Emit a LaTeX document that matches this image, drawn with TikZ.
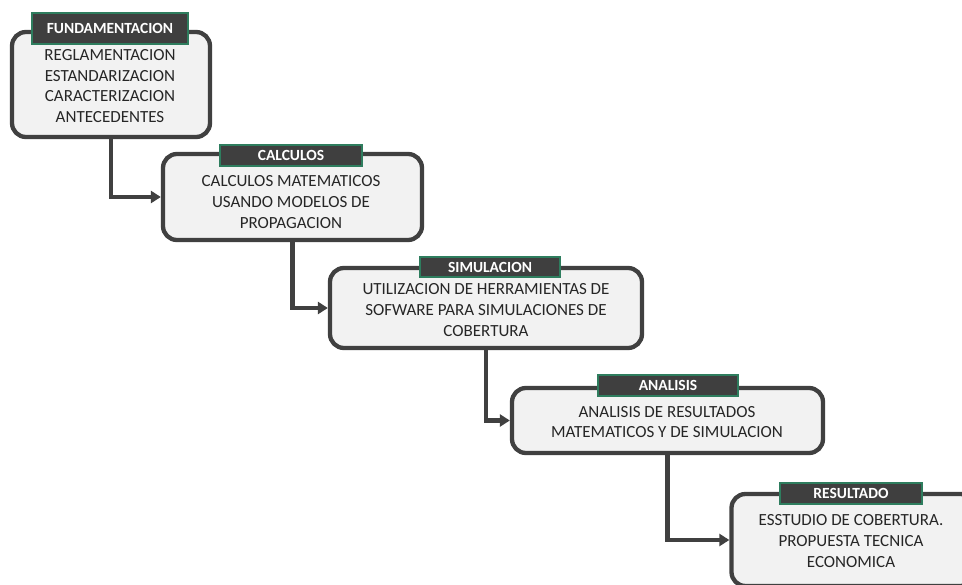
\documentclass[tikz,border=0pt]{standalone}
\usepackage{fontspec}
\setmainfont{Carlito}
\usetikzlibrary{arrows.meta}
\definecolor{boxfill}{HTML}{F2F2F2}
\definecolor{boxline}{HTML}{404040}
\definecolor{tagfill}{HTML}{3F3F3F}
\definecolor{tagline}{HTML}{2E7D5E}
\definecolor{ink}{HTML}{262626}
\begin{document}
\begin{tikzpicture}[x=1pt,y=-1pt,
  stage/.style={draw=boxline, line width=4.3pt, fill=boxfill,
    rounded corners=14pt, inner sep=0pt, minimum width=#1},
  body/.style={text=ink, font=\fontsize{17}{20.6}\selectfont, align=center, inner sep=0pt},
  tag/.style={draw=tagline, line width=1.3pt, fill=tagfill, text=white,
    font=\bfseries\fontsize{15.5}{16}\selectfont, inner sep=0pt},
  link/.style={draw=boxline, line width=4.3pt,
    -{Triangle[length=10pt,width=12pt]}}
]
\useasboundingbox (0,0) rectangle (962,585);
\clip (0,0) rectangle (962,585);

% stage boxes
\node[stage=198pt, minimum height=105pt] (b1) at (111,84.5) {};
\node[stage=259pt, minimum height=86pt]  (b2) at (292.5,197) {};
\node[stage=312pt, minimum height=80pt]  (b3) at (486,308) {};
\node[stage=311pt, minimum height=65pt]  (b4) at (667.5,420.5) {};
\node[stage=243pt, minimum height=92pt]  (b5) at (853,540) {};

% box contents
\node[body] (t1) at (110,86) {REGLAMENTACION\\ESTANDARIZACION\\CARACTERIZACION\\ANTECEDENTES};
\node[body] (t2) at (291,202) {CALCULOS MATEMATICOS\\USANDO MODELOS DE\\PROPAGACION};
\node[body] (t3) at (486,310) {UTILIZACION DE HERRAMIENTAS DE\\SOFWARE PARA SIMULACIONES DE\\COBERTURA};
\node[body] (t4) at (667,422) {ANALISIS DE RESULTADOS\\MATEMATICOS Y DE SIMULACION};
\node[body] (t5) at (851,541) {ESSTUDIO DE COBERTURA.\\PROPUESTA TECNICA\\ECONOMICA};

% stage titles
\node[tag, minimum width=156pt, minimum height=31pt] (g1) at (110,28.5) {FUNDAMENTACION};
\node[tag, minimum width=142pt, minimum height=21pt] (g2) at (291,155.5) {CALCULOS};
\node[tag, minimum width=140pt, minimum height=20pt] (g3) at (490,267) {SIMULACION};
\node[tag, minimum width=140pt, minimum height=21pt] (g4) at (668,385.5) {ANALISIS};
\node[tag, minimum width=142pt, minimum height=21pt] (g5) at (851,493.5) {RESULTADO};

% step connectors
\draw[link] (b1.south) |- (b2.west);
\draw[link] (b2.south) |- (b3.west);
\draw[link] (b3.south) |- (b4.west);
\draw[link] (b4.south) |- (b5.west);
\end{tikzpicture}
\end{document}
